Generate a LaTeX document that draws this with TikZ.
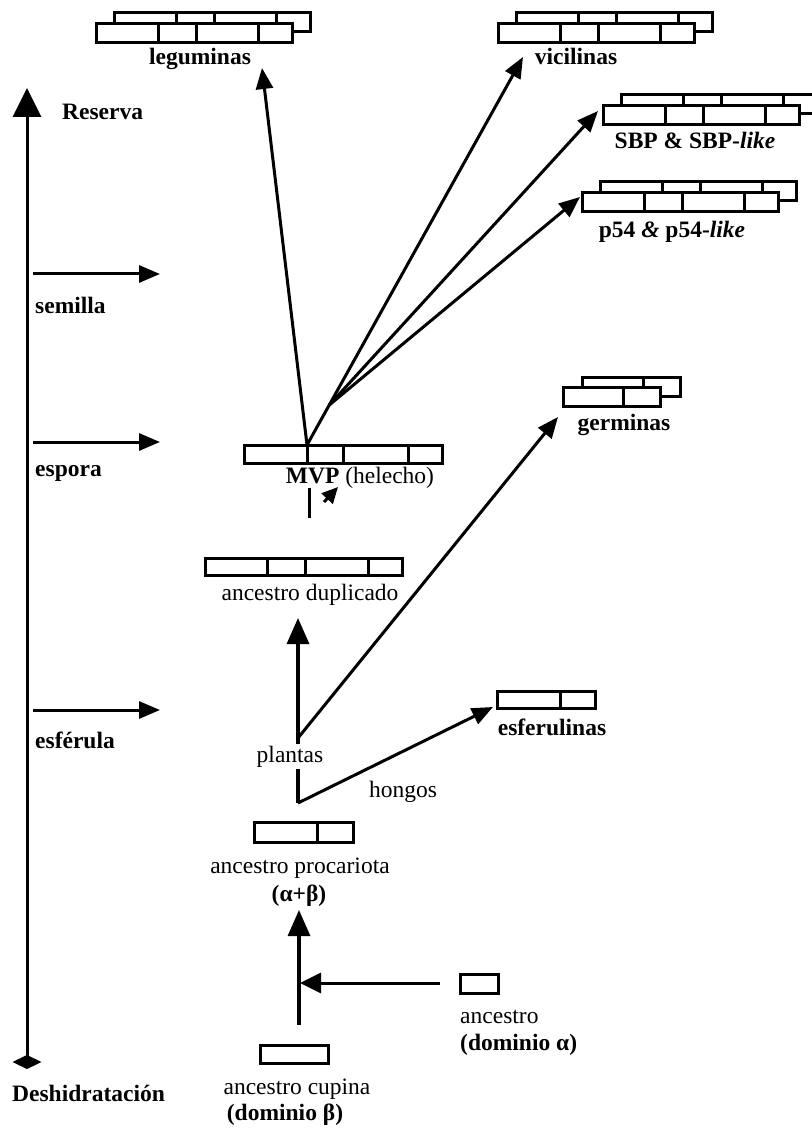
\documentclass[tikz,border=0pt]{standalone}
\usepackage{fontspec}
\setmainfont{Liberation Serif}
\usetikzlibrary{arrows.meta}
\newcommand\twob[5]{\draw[dom] (#1,#2) rectangle ++(#3,#5); \draw[dom] (#1+#3,#2) rectangle ++(#4,#5);}
\newcommand\fourb[2]{\twob{#1}{#2}{62}{38}{19}\twob{#1+100}{#2}{62}{34}{19}}
\newcommand\stackb[2]{\fourb{#1+18}{#2-11}\fourb{#1}{#2}}
\begin{document}
\begin{tikzpicture}[x=1pt,y=-1pt,
  dom/.style={draw=black,line width=3pt,fill=white},
  arr/.style={line width=3pt,-{Triangle[length=21pt,width=17pt]}},
  bigarr/.style={line width=3.2pt,-{Triangle[length=26pt,width=22pt]}},
  lbl/.style={inner sep=0pt,font=\fontsize{23.5}{26}\selectfont},
  blbl/.style={inner sep=0pt,font=\fontsize{23.5}{26}\selectfont\bfseries},
]
\useasboundingbox (0,0) rectangle (811,1131);

% ---- left axis
\coordinate (axtop) at (27,88);
\coordinate (axbot) at (27,1069);
\draw[line width=3pt,{Kite[length=14pt,width=29pt,inset=7pt]}-{Triangle[length=29pt,width=28pt]}] (axbot) -- (axtop);
\foreach \n/\y in {sem/274,esp/442,esf/710}{
  \coordinate (\n0) at (33,\y);
  \coordinate (\n1) at (160,\y);
  \draw[arr] (\n0) -- (\n1);
}
\node[blbl,anchor=west] (res) at (62,112) {Reserva};
\node[blbl,anchor=west] (semL) at (35,305) {semilla};
\node[blbl,anchor=west] (espL) at (35,473) {espora};
\node[blbl,anchor=west] (esfL) at (35,740) {esférula};
\node[blbl,anchor=west] (des) at (12,1093) {Deshidratación};

% ---- domain boxes
\stackb{96}{24}
\stackb{498}{24}
\stackb{603}{106}
\stackb{582}{193}
\twob{582}{377}{61}{37}{19}
\twob{563}{387}{60}{37}{19}
\twob{244}{445}{63}{36}{18}
\twob{343}{445}{65}{34}{18}
\twob{205}{558}{62}{38}{17}
\twob{305}{558}{63}{34}{17}
\twob{497}{691}{63}{35}{17}
\twob{254}{822}{63}{36}{20}
\draw[dom] (260,1045) rectangle ++(68,18);
\draw[dom] (460,974) rectangle ++(38,19);

% ---- labels
\node[blbl,anchor=base] (leg) at (200,65) {leguminas};
\node[blbl,anchor=base] (vic) at (576,65) {vicilinas};
\node[blbl] (sbp) at (695,140) {SBP \& SBP-\textit{like}};
\node[blbl] (p54) at (672,232) {p54 \textit{\&} p54-\textit{like}};
\node[blbl] (ger) at (624,425) {germinas};
\node[lbl,anchor=base] (mvp) at (360,483) {\textbf{MVP} (helecho)};
\node[lbl] (dup) at (310,595) {ancestro duplicado};
\node[blbl] (esfn) at (552,727) {esferulinas};
\node[lbl,anchor=base] (hon) at (403,797) {hongos};
\node[lbl] (pro) at (300,868) {ancestro procariota};
\node[blbl] (ab) at (299,896) {(α+β)};
\node[lbl,anchor=west] (anc) at (460,1017) {ancestro};
\node[blbl,anchor=west] (da) at (460,1045) {(dominio α)};
\node[lbl] (cup) at (297,1089) {ancestro cupina};
\node[blbl] (db) at (285,1115) {(dominio β)};

% ---- tree connectors
\coordinate (mvptop) at (307,445);
\coordinate (legtip) at (262,68);
\coordinate (victip) at (523,57);
\coordinate (split) at (329.3,405);
\coordinate (sbptip) at (598,111);
\coordinate (p54tip) at (580,197);
\draw[arr] (mvptop) -- (legtip);
\draw[arr] (mvptop) -- (victip);
\draw[arr] (split) -- (sbptip);
\draw[arr] (split) -- (p54tip);

\coordinate (st0) at (309,488);
\coordinate (st1) at (309,518);
\draw[line width=3pt] (st0) -- (st1);
\coordinate (sa0) at (324,502);
\coordinate (sa1) at (338,487);
\draw[line width=3pt,-{Triangle[length=16pt,width=15pt]}] (sa0) -- (sa1);

\coordinate (junc) at (298,803);
\coordinate (duptip) at (298,618);
\coordinate (gstart) at (298,738);
\coordinate (gertip) at (558,417);
\coordinate (esftip) at (493,707);
\draw[bigarr] (junc) -- (duptip);
\draw[arr] (gstart) -- (gertip);
\draw[arr] (junc) -- (esftip);
\node[lbl,anchor=base,fill=white,inner sep=1.5pt] (pla) at (290,762) {plantas};

\coordinate (cupt) at (299,1025);
\coordinate (protip) at (299,910);
\coordinate (alst) at (440,983);
\coordinate (alt) at (300,983);
\draw[bigarr] (cupt) -- (protip);
\draw[line width=3pt,-{Triangle[length=21pt,width=20pt]}] (alst) -- (alt);
\end{tikzpicture}
\end{document}
